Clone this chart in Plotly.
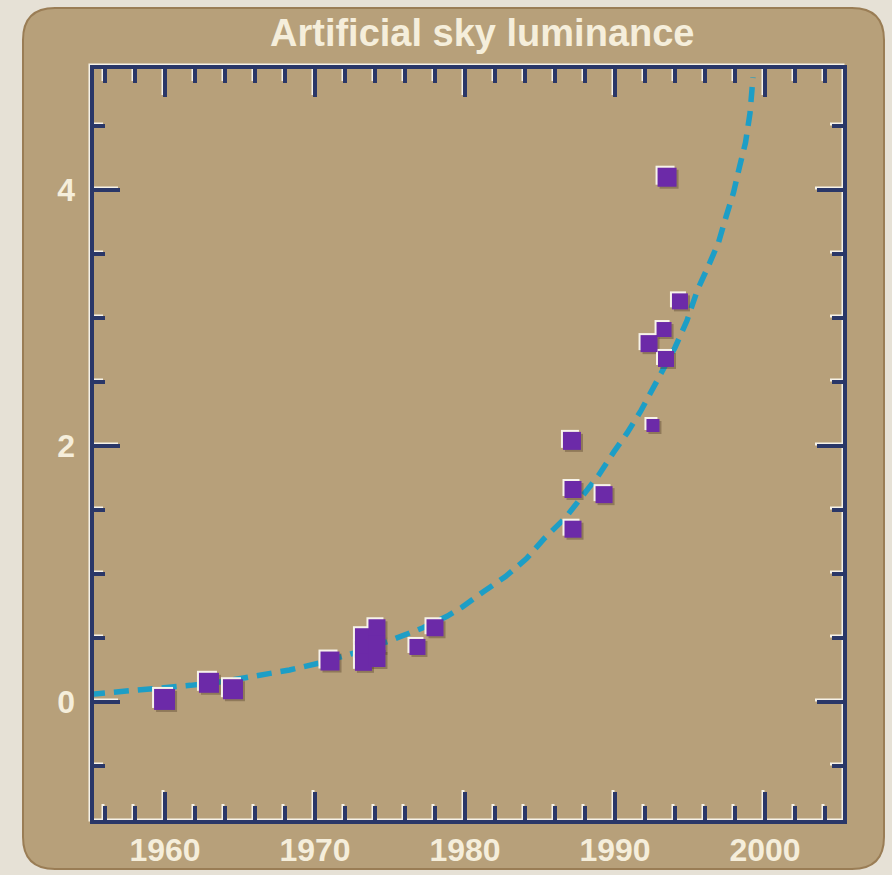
import plotly.graph_objects as go

# measured points
years = [1959.97, 1962.93, 1964.53, 1971.0,
         1973.23, 1973.23, 1973.23, 1974.13, 1974.13, 1974.13,
         1976.83, 1978.0,
         1987.13, 1987.2, 1989.27, 1987.2,
         1992.53, 1992.27, 1993.4, 1993.27, 1994.33, 1993.47]
luminance = [0.02, 0.15, 0.10, 0.32,
             0.51, 0.41, 0.31, 0.58, 0.45, 0.34,
             0.43, 0.58,
             2.04, 1.66, 1.62, 1.35,
             2.16, 2.80, 2.68, 2.91, 3.13, 4.10]

# fitted trend
fit_years = [1955.0, 1957.2, 1959.5, 1961.7, 1963.9, 1966.1, 1968.3, 1970.5, 1972.8,
             1975.0, 1977.2, 1978.8, 1979.8, 1981.2, 1982.7, 1984.1, 1985.3, 1986.7,
             1987.8, 1988.9, 1989.9, 1990.8, 1991.7, 1992.5, 1993.2, 1994.0, 1994.8,
             1995.5, 1996.2, 1996.9, 1997.4, 1997.9, 1998.3, 1998.7, 1999.0, 1999.2]
fit_values = [0.06, 0.08, 0.10, 0.13, 0.16, 0.20, 0.25, 0.31, 0.39,
              0.48, 0.58, 0.67, 0.74, 0.86, 0.98, 1.12, 1.28, 1.44,
              1.60, 1.77, 1.95, 2.10, 2.27, 2.45, 2.59, 2.77, 2.98,
              3.22, 3.40, 3.59, 3.79, 3.98, 4.18, 4.37, 4.60, 4.88]

x_ticks = [1960, 1970, 1980, 1990, 2000]
x_tick_labels = ['1960', '1970', '1980', '1990', '2000']
y_ticks = [0, 2, 4]
y_tick_labels = ['0', '2', '4']

# geometry / style
W, H = 892, 875
L, R, T, B = 92, 47, 67, 53
PW, PH = W - L - R, H - T - B
XR = [1955.133, 2005.333]
YR = [-0.9375, 4.961]
NAVY = '#2a3768'
CREAM = '#f5eedb'
PURPLE = '#6c2aa8'
TEAL = '#1d9ec6'
TAN = '#b7a07a'
FONT = 'Liberation Sans, Arial, sans-serif'

def fx(v):
    return (v - XR[0]) / (XR[1] - XR[0])

def fy(v):
    return (v - YR[0]) / (YR[1] - YR[0])

def px(p):
    return (p - L) / PW

def py(p):
    return (H - B - p) / PH

sx, sy = 2 / PW, 2 / PH   # highlight offset in paper units
dxd = 2 * (XR[1] - XR[0]) / PW
dyd = 2 * (YR[1] - YR[0]) / PH

shapes = []

# rounded panel behind everything
x0, x1, y0, y1, r = px(23), px(884), py(869), py(8), 32
rx, ry = r / PW, r / PH
path = (f'M {x0+rx},{y1} L {x1-rx},{y1} Q {x1},{y1} {x1},{y1-ry} '
        f'L {x1},{y0+ry} Q {x1},{y0} {x1-rx},{y0} L {x0+rx},{y0} '
        f'Q {x0},{y0} {x0},{y0+ry} L {x0},{y1-ry} Q {x0},{y1} {x0+rx},{y1} Z')
shapes.append(dict(type='path', path=path, xref='paper', yref='paper', layer='below',
                   fillcolor=TAN, line=dict(color='#9a7d55', width=2)))

# frame: white highlight then navy
shapes.append(dict(type='rect', xref='paper', yref='paper', x0=-sx, x1=1 - sx, y0=sy, y1=1 + sy,
                   line=dict(color='#f6f2e8', width=3)))

def tick(xa, ya, xb, yb):
    shapes.append(dict(type='line', xref='paper', yref='paper', x0=xa - sx, y0=ya + sy,
                       x1=xb - sx, y1=yb + sy, line=dict(color='#f6f2e8', width=3)))
    shapes.append(dict(type='line', xref='paper', yref='paper', x0=xa, y0=ya,
                       x1=xb, y1=yb, line=dict(color=NAVY, width=4)))

for t in range(1956, 2005, 2):
    ln = (30 if t % 10 == 0 else 16) / PH
    tick(fx(t), 0, fx(t), ln)
    tick(fx(t), 1, fx(t), 1 - ln)

for k in range(-1, 10):
    v = k * 0.5
    ln = (28 if v in y_ticks else 13) / PW
    tick(0, fy(v), ln, fy(v))
    tick(1, fy(v), 1 - ln, fy(v))

shapes.append(dict(type='rect', xref='paper', yref='paper', x0=0, x1=1, y0=0, y1=1,
                   line=dict(color=NAVY, width=4)))

fig = go.Figure()

fig.add_trace(go.Scatter(x=fit_years, y=fit_values, mode='lines',
                         line=dict(color=TEAL, width=5.5, dash='15px,9px'), hoverinfo='skip'))

sizes = [21, 20, 20, 19, 17, 17, 17, 17, 17, 17, 16, 17, 18, 17, 17, 17, 13, 17, 16, 15, 16, 19]
fig.add_trace(go.Scatter(x=[v + dxd for v in years], y=[v - dyd for v in luminance], mode='markers',
                         marker=dict(symbol='square', size=sizes, opacity=1,
                                     color='rgba(70,50,30,0.35)', line=dict(width=0)),
                         hoverinfo='skip'))
fig.add_trace(go.Scatter(x=[v - dxd for v in years], y=[v + dyd for v in luminance], mode='markers',
                         marker=dict(symbol='square', size=sizes, opacity=1,
                                     color='#f7f3ea', line=dict(width=0)),
                         hoverinfo='skip'))
fig.add_trace(go.Scatter(x=years, y=luminance, mode='markers',
                         marker=dict(symbol='square', size=sizes, opacity=1,
                                     color=PURPLE, line=dict(width=0))))

fig.update_layout(
    width=W, height=H, autosize=False,
    margin=dict(l=L, r=R, t=T, b=B),
    paper_bgcolor='#e6e1d6', plot_bgcolor='rgba(0,0,0,0)',
    showlegend=False, shapes=shapes,
    annotations=[dict(text='<b>Artificial sky luminance</b>', xref='paper', yref='paper',
                      x=px(482), y=py(33), xanchor='center', yanchor='middle', showarrow=False,
                      font=dict(family=FONT, size=38, color=CREAM))],
)
fig.update_xaxes(range=XR, tickvals=x_ticks, ticktext=['<b>%s</b>' % s for s in x_tick_labels],
                 showgrid=False, zeroline=False, showline=False, ticks='', ticklabelstandoff=6,
                 automargin=False, tickfont=dict(family=FONT, size=32, color=CREAM))
fig.update_yaxes(range=YR, tickvals=y_ticks, ticktext=['<b>%s</b>' % s for s in y_tick_labels],
                 showgrid=False, zeroline=False, showline=False, ticks='', ticklabelstandoff=16,
                 automargin=False, tickfont=dict(family=FONT, size=32, color=CREAM))

fig.write_html('out.html', post_script="document.body.style.margin='0px';",
               config=dict(displayModeBar=False))
